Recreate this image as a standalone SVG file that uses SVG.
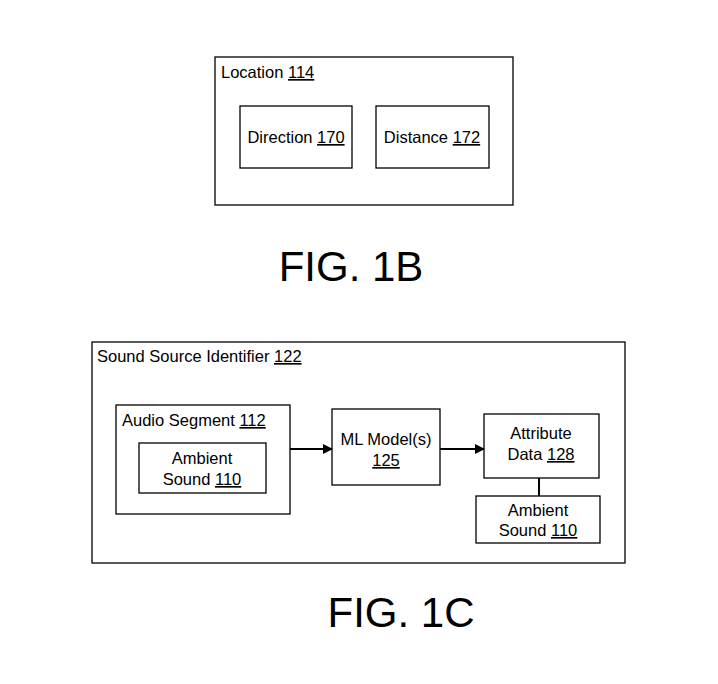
<svg xmlns="http://www.w3.org/2000/svg" width="718" height="684" viewBox="0 0 718 684">
<style>
rect{fill:#fff;stroke:#000;stroke-width:1.3}
text{font-family:"Liberation Sans",Arial,sans-serif;font-size:16.5px;fill:#000}
.c{text-anchor:middle}
.fig{font-size:42px;text-anchor:middle}
.u{text-decoration:underline}
line{stroke:#000;stroke-width:2}
</style>
<defs><marker id="a" markerWidth="10" markerHeight="10" refX="9" refY="5" orient="auto" markerUnits="userSpaceOnUse"><path d="M0,0L10,5L0,10z"/></marker></defs>
<rect width="718" height="684" style="stroke:none"/>
<g id="location"><rect x="215" y="57" width="298" height="148"/><text x="221" y="78">Location <tspan class="u">114</tspan></text></g>
<g id="direction"><rect x="240" y="106" width="112" height="62"/><text class="c" x="296" y="143">Direction <tspan class="u">170</tspan></text></g>
<g id="distance"><rect x="376" y="106" width="113" height="62"/><text class="c" x="432" y="143">Distance <tspan class="u">172</tspan></text></g>
<text class="fig" x="351" y="281">FIG. 1B</text>
<g id="ssi"><rect x="92" y="342" width="533" height="221"/><text x="97" y="362">Sound Source Identifier <tspan class="u">122</tspan></text></g>
<g id="audio"><rect x="116" y="405" width="174" height="109"/><text x="122" y="426">Audio Segment <tspan class="u">112</tspan></text></g>
<g id="ambient1"><rect x="139" y="443" width="127" height="50"/><text class="c" x="202" y="464">Ambient</text><text class="c" x="202" y="485">Sound <tspan class="u">110</tspan></text></g>
<g id="ml"><rect x="332" y="409" width="108" height="76"/><text class="c" x="386" y="445">ML Model(s)</text><text class="c" x="386" y="466" text-decoration="underline">125</text></g>
<g id="attr"><rect x="484" y="414" width="115" height="64"/><text class="c" x="541" y="439">Attribute</text><text class="c" x="541" y="460">Data <tspan class="u">128</tspan></text></g>
<g id="ambient2"><rect x="476" y="496" width="124" height="47"/><text class="c" x="538" y="516">Ambient</text><text class="c" x="538" y="536">Sound <tspan class="u">110</tspan></text></g>
<g id="connectors">
<line x1="290" y1="449" x2="332" y2="449" marker-end="url(#a)"/>
<line x1="440" y1="449" x2="484" y2="449" marker-end="url(#a)"/>
<line x1="539" y1="478" x2="539" y2="496"/>
</g>
<text class="fig" x="401" y="627">FIG. 1C</text>
</svg>
